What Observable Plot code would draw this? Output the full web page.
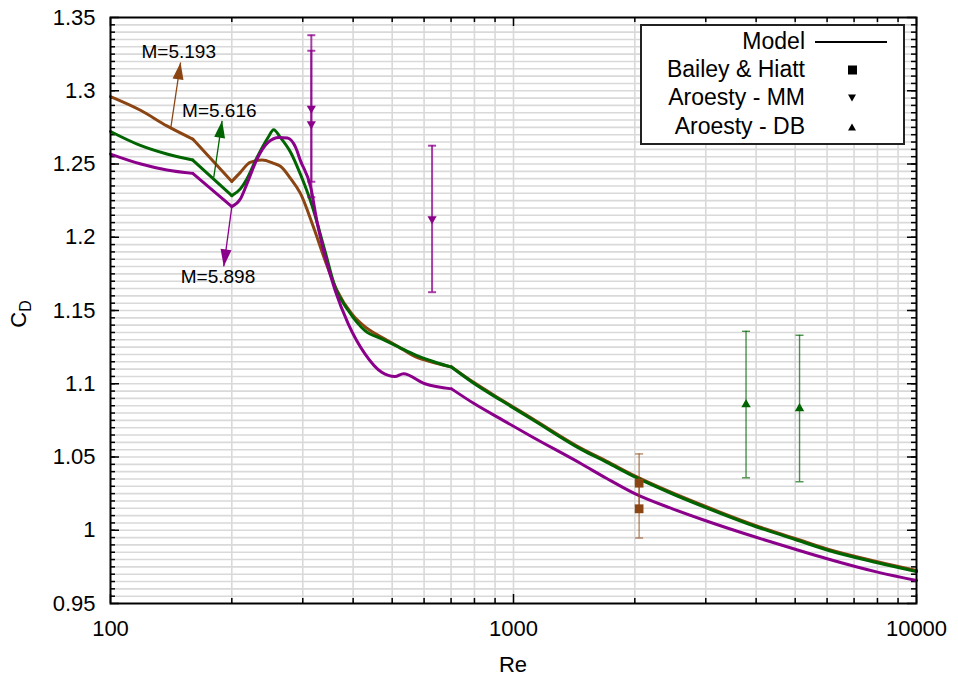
<!DOCTYPE html>
<html><head><meta charset="utf-8">
<script src="https://cdn.jsdelivr.net/npm/d3@7"></script>
<script src="https://cdn.jsdelivr.net/npm/@observablehq/plot@0.6"></script>
<style>
body{margin:0;background:#fff;font-family:"Liberation Sans",Arial,Helvetica,sans-serif;}
#wrap{position:relative;width:958px;height:682px;overflow:hidden;}
#wrap svg{position:absolute;left:0;top:0;}
.lab{position:absolute;color:#000;white-space:nowrap;}
#legend{position:absolute;left:640px;top:24px;width:261px;height:117px;border:2px solid #222;background:#fff;}
.row{position:absolute;right:98px;font-size:23px;line-height:23px;text-align:right;}
.sym{position:absolute;}
</style></head>
<body><div id="wrap"></div>
<script>
// ---------- data ----------
const reBrown = [100,119,138,160,200,210,222,238,254,264,280,296,319,341,365,397,430,471,520,570,640,702,800,933,1108,1472,1700,2000,2500,3000,4000,5000,6000,8000,10000];
const cdBrown = [1.296,1.2865,1.276,1.267,1.2381,1.2443,1.2511,1.2527,1.2504,1.2485,1.240,1.2299,1.2068,1.184,1.1636,1.1477,1.1385,1.1317,1.125,1.1185,1.1142,1.1115,1.1006,1.0891,1.0766,1.0559,1.0472,1.0371,1.0251,1.0162,1.0031,0.9944,0.9872,0.9785,0.9725];

const reGreen = [100,119,138,160,200,210,218,231,246,254,264,280,296,316,341,361,389,428,471,520,570,640,702,800,933,1108,1472,1700,2000,2500,3000,4000,5000,6000,8000,10000];
const cdGreen = [1.2722,1.2625,1.2568,1.2527,1.2284,1.233,1.2398,1.2545,1.2681,1.2734,1.2681,1.2579,1.243,1.222,1.190,1.1658,1.150,1.1363,1.1306,1.1249,1.1197,1.1147,1.1113,1.1000,1.0885,1.076,1.0552,1.0465,1.0364,1.0244,1.0155,1.0024,0.9937,0.9865,0.9778,0.9718];

const rePurple = [100,119,138,160,200,210,218,231,246,262,275,288,296,314,325,338,361,389,428,471,508,533,603,702,800,929,1108,1472,1700,2000,2500,3000,4000,5000,6000,8000,10000];
const cdPurple = [1.2568,1.25,1.2459,1.2436,1.2209,1.2261,1.2364,1.2534,1.2647,1.2681,1.2677,1.2613,1.2523,1.234,1.2113,1.1909,1.1636,1.1409,1.1204,1.1078,1.1049,1.1068,1.1000,1.0965,1.0863,1.076,1.064,1.0454,1.0355,1.025,1.0143,1.0065,0.9952,0.9870,0.9805,0.9714,0.9657];

// Re values where the model curves have corners
const cornerRe = [160, 200, 702];

// experimental data (Re, CD, error)
const baileyRe = [2050, 2050];
const baileyCd = [1.0321, 1.0147];
const baileyErr = [0.02, 0.02];
const mmRe = [315, 315, 628];
const mmCd = [1.2879, 1.2773, 1.2125];
const mmErr = [0.05, 0.05, 0.05];
const dbRe = [3776, 5126];
const dbCd = [1.0858, 1.0831];
const dbErr = [0.05, 0.05];

// annotations
const annLabels = ["M=5.193", "M=5.616", "M=5.898"];
const annTextRe = [147.7, 186.2, 184.8];
const annTextCd = [1.3268, 1.2864, 1.1727];
const arrTailRe = [141, 180.4, 200];
const arrTailCd = [1.2739, 1.2409, 1.2209];
const arrHeadRe = [149.2, 189.2, 191];
const arrHeadCd = [1.3193, 1.2795, 1.1801];

// axes
const xTicks = [100, 1000, 10000];
const xTickLabels = ["100", "1000", "10000"];
const xMinor = [200,300,400,500,600,700,800,900,2000,3000,4000,5000,6000,7000,8000,9000];
const xGrid = [200,300,400,500,600,700,800,900,1000,2000,3000,4000,5000,6000,7000,8000,9000];
const yTicks = [0.95,1,1.05,1.1,1.15,1.2,1.25,1.3,1.35];
const yTickLabels = ["0.95","1","1.05","1.1","1.15","1.2","1.25","1.3","1.35"];
const yMinor = d3.range(191, 270).map(i => i / 200);

const colBrown = "#8b4513", colGreen = "#006400", colPurple = "#8b008b";

// ---------- layout ----------
const W = 958, H = 682, mL = 110, mR = 42, mT = 17, mB = 79;
const innerW = W - mL - mR, innerH = H - mT - mB;

// split a curve into smooth pieces joined at the corner points
function pieces(re, cd) {
  const out = [];
  re.forEach((r, i) => {
    let s = 0;
    while (s < cornerRe.length && r > cornerRe[s]) s++;
    out.push({re: r, cd: cd[i], seg: s});
    if (cornerRe.includes(r)) out.push({re: r, cd: cd[i], seg: s + 1});
  });
  return out;
}
const brown = pieces(reBrown, cdBrown);
const green = pieces(reGreen, cdGreen);
const purple = pieces(rePurple, cdPurple);
const pts = (re, cd, err) => re.map((r, i) => ({re: r, cd: cd[i], err: err[i]}));
const bailey = pts(baileyRe, baileyCd, baileyErr);
const mm = pts(mmRe, mmCd, mmErr);
const db = pts(dbRe, dbCd, dbErr);

// pixel scales only used to orient arrow heads
const px = d3.scaleLog().domain([100, 10000]).range([mL, W - mR]);
const py = d3.scaleLinear().domain([0.95, 1.35]).range([H - mB, mT]);
const annCols = [colBrown, colGreen, colPurple];
const arrows = annLabels.map((t, i) => {
  const ang = Math.atan2(py(arrHeadCd[i]) - py(arrTailCd[i]), px(arrHeadRe[i]) - px(arrTailRe[i])) * 180 / Math.PI;
  return {t, tx: annTextRe[i], ty: annTextCd[i], x1: arrTailRe[i], y1: arrTailCd[i], x2: arrHeadRe[i], y2: arrHeadCd[i], rot: ang + 90, col: annCols[i]};
});

const capSym = {draw(ctx, size) { const r = Math.sqrt(size / Math.PI); ctx.moveTo(-r, 0); ctx.lineTo(r, 0); }};
const headSym = {draw(ctx, size) { ctx.moveTo(0, 0); ctx.lineTo(5.5, 17); ctx.lineTo(-5.5, 17); ctx.closePath(); }};

function errMarks(data, col, w, op) {
  return [
    Plot.ruleX(data, {x: "re", y1: d => d.cd - d.err, y2: d => d.cd + d.err, stroke: col, strokeWidth: w, strokeOpacity: op}),
    Plot.dot(data, {x: "re", y: d => d.cd - d.err, symbol: capSym, r: 4, stroke: col, strokeWidth: w, strokeOpacity: op}),
    Plot.dot(data, {x: "re", y: d => d.cd + d.err, symbol: capSym, r: 4, stroke: col, strokeWidth: w, strokeOpacity: op})
  ];
}
const curve = (data, col) => Plot.line(data, {x: "re", y: "cd", z: "seg", curve: "monotone-x", stroke: col, strokeWidth: 3, strokeLinejoin: "round", strokeLinecap: "round"});

const chart = Plot.plot({
  width: W, height: H,
  marginLeft: mL, marginRight: mR, marginTop: mT, marginBottom: mB,
  style: {fontFamily: '"Liberation Sans", Arial, sans-serif', fontSize: "22px", color: "#000", background: "transparent", overflow: "visible"},
  x: {type: "log", domain: [100, 10000]},
  y: {domain: [0.95, 1.35]},
  marks: [
    Plot.ruleY(yMinor, {y: d => d, stroke: "#d9d9d9", strokeWidth: 1.6}),
    Plot.ruleX(xGrid, {x: d => d, stroke: "#d9d9d9", strokeWidth: 1.6}),
    Plot.axisX({ticks: xTicks, tickSize: 0, tickPadding: 17, tickFormat: d => xTickLabels[xTicks.indexOf(d)], label: null, fontSize: 22}),
    Plot.axisY({ticks: yTicks, tickSize: 0, tickPadding: 15, tickFormat: d => yTickLabels[yTicks.findIndex(v => Math.abs(v - d) < 1e-9)], label: null, fontSize: 22}),
    // inward ticks
    Plot.tickY(yMinor, {y: d => d, insetRight: innerW - 5, stroke: "#000", strokeWidth: 1.5}),
    Plot.tickY(yMinor, {y: d => d, insetLeft: innerW - 5, stroke: "#000", strokeWidth: 1.5}),
    Plot.tickY(yTicks, {y: d => d, insetRight: innerW - 9, stroke: "#000", strokeWidth: 1.5}),
    Plot.tickY(yTicks, {y: d => d, insetLeft: innerW - 9, stroke: "#000", strokeWidth: 1.5}),
    Plot.tickX(xMinor, {x: d => d, insetTop: innerH - 5, stroke: "#000", strokeWidth: 1.5}),
    Plot.tickX(xMinor, {x: d => d, insetBottom: innerH - 5, stroke: "#000", strokeWidth: 1.5}),
    Plot.tickX(xTicks, {x: d => d, insetTop: innerH - 9, stroke: "#000", strokeWidth: 1.5}),
    Plot.tickX(xTicks, {x: d => d, insetBottom: innerH - 9, stroke: "#000", strokeWidth: 1.5}),
    // model curves
    curve(brown, colBrown),
    curve(green, colGreen),
    curve(purple, colPurple),
    // experiments
    ...errMarks(mm, colPurple, 2, 0.75),
    ...errMarks(bailey, colBrown, 1.6, 0.55),
    ...errMarks(db, colGreen, 1.4, 0.7),
    Plot.dot(bailey, {x: "re", y: "cd", symbol: "square", r: 4.9, fill: colBrown}),
    Plot.dot(mm, {x: "re", y: "cd", symbol: "triangle", r: 3.4, rotate: 180, fill: colPurple}),
    Plot.dot(db, {x: "re", y: "cd", symbol: "triangle", r: 3.5, fill: colGreen}),
    // annotations
    Plot.link(arrows, {x1: "x1", y1: "y1", x2: "x2", y2: "y2", stroke: "col", strokeWidth: 1.3}),
    Plot.dot(arrows, {x: "x2", y: "y2", symbol: headSym, r: 5, fill: "col", stroke: "none", rotate: "rot"}),
    Plot.text(arrows, {x: "tx", y: "ty", text: "t", fontSize: 19, fill: "#000"}),
    Plot.frame({stroke: "#000", strokeWidth: 2})
  ]
});

const wrap = document.getElementById("wrap");
wrap.appendChild(chart);

// axis titles
const xl = document.createElement("div");
xl.className = "lab"; xl.style.fontSize = "22px";
xl.style.left = (mL + innerW / 2) + "px"; xl.style.top = "665px";
xl.style.transform = "translate(-50%,-50%)";
xl.textContent = "Re";
wrap.appendChild(xl);

const yl = document.createElement("div");
yl.className = "lab"; yl.style.fontSize = "22px";
yl.style.left = "20px"; yl.style.top = "314px";
yl.style.transform = "translate(-50%,-50%) rotate(-90deg)";
yl.innerHTML = 'C<sub style="font-size:16px;vertical-align:-5px">D</sub>';
wrap.appendChild(yl);

// legend
const legendLabels = ["Model", "Bailey & Hiatt", "Aroesty - MM", "Aroesty - DB"];
const legendRowY = [16, 44, 72, 101];
const lg = document.createElement("div");
lg.id = "legend";
legendLabels.forEach((t, i) => {
  const r = document.createElement("div");
  r.className = "row"; r.style.top = (legendRowY[i] - 12) + "px";
  r.textContent = t; lg.appendChild(r);
});
const ls = document.createElementNS("http://www.w3.org/2000/svg", "svg");
ls.setAttribute("width", "261"); ls.setAttribute("height", "117");
ls.setAttribute("class", "sym"); ls.style.left = "0"; ls.style.top = "0";
ls.innerHTML =
  `<line x1="173" x2="245" y1="${legendRowY[0]}" y2="${legendRowY[0]}" stroke="#000" stroke-width="2"/>` +
  `<rect x="206" y="${legendRowY[1]-4.5}" width="9" height="9" fill="#000"/>` +
  `<path d="M206,${legendRowY[2]-3.5} L214,${legendRowY[2]-3.5} L210,${legendRowY[2]+3.5}Z" fill="#000"/>` +
  `<path d="M206,${legendRowY[3]+3.5} L214,${legendRowY[3]+3.5} L210,${legendRowY[3]-3.5}Z" fill="#000"/>`;
lg.appendChild(ls);
wrap.appendChild(lg);
</script>
</body></html>
